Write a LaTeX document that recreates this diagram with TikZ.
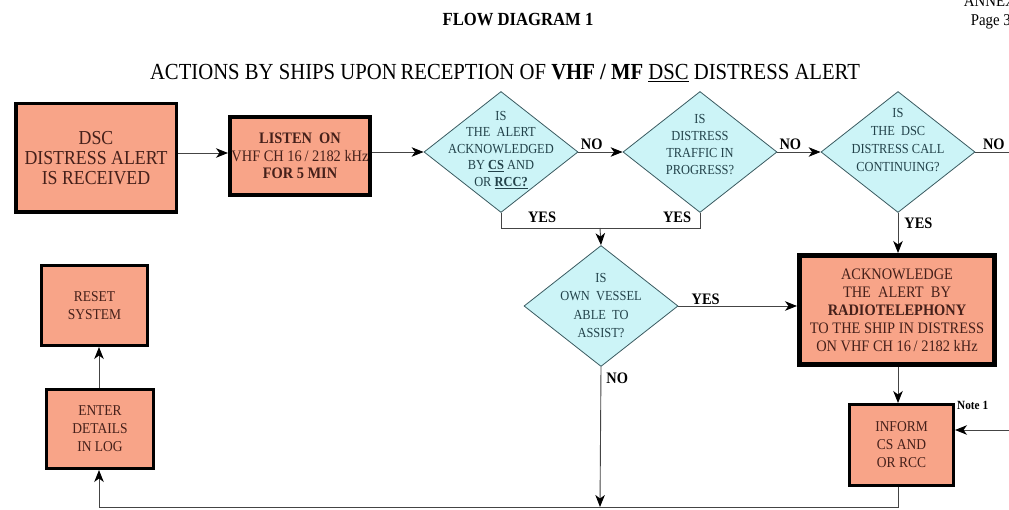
\documentclass[tikz,border=0pt]{standalone}
\usepackage{fontspec}
\setmainfont{Liberation Serif}
\newfontfamily\cond[FakeStretch=0.9]{Liberation Serif}
\usetikzlibrary{shapes.geometric,arrows.meta,calc}
\definecolor{boxfill}{HTML}{F8A488}
\definecolor{boxtext}{HTML}{45201A}
\definecolor{diafill}{HTML}{CCF4F7}
\definecolor{diaedge}{HTML}{3A5A60}
\definecolor{diatext}{HTML}{22424A}
\definecolor{linec}{HTML}{444444}
\newcommand{\fs}[2]{\fontsize{#1}{#2}\selectfont}
\begin{document}
\begin{tikzpicture}[x=1pt,y=-1pt,
  box/.style={draw=black, fill=boxfill, text=boxtext, align=center, inner sep=0pt},
  dia/.style={diamond, draw=diaedge, fill=diafill, line width=0.8pt, minimum width=154pt, minimum height=121pt, inner sep=0pt},
  dtext/.style={text=diatext, align=center, inner sep=0pt, font=\cond\fs{13.8}{16.5}},
  con/.style={draw=linec, line width=0.9pt},
  arr/.style={con, -{Stealth[length=12pt,width=9.5pt,inset=3.5pt,color=black]}},
  lab/.style={font=\cond\bfseries\fs{16}{18}, inner sep=0pt, text=black}
]
\useasboundingbox (0,0) rectangle (1009,510);

% header
\node[font=\cond\bfseries\fs{18.5}{20}] (hdr) at (518,20) {FLOW DIAGRAM 1};
\node[font=\cond\fs{16.5}{18}, anchor=east, inner sep=0pt] (page) at (1011,22) {Page 3};
\node[font=\cond\fs{16.5}{18}, anchor=base east, inner sep=0pt] (annex) at (1016,7) {ANNEX};
\node[font=\cond\fs{23}{25}] (title) at (505,73) {ACTIONS BY SHIPS UPON\,RECEPTION OF \textbf{VHF / MF} \underline{DSC} DISTRESS ALERT};

% boxes
\node[box, line width=3.5pt, minimum width=160.5pt, minimum height=108.5pt, font=\cond\fs{19.8}{20}] (dsc) at (96,158) {DSC\\DISTRESS ALERT\\IS RECEIVED};
\node[box, line width=4pt, minimum width=140pt, minimum height=78pt, font=\cond\fs{16}{17.5}] (listen) at (300,156) {\textbf{LISTEN\ \ ON}\\VHF CH 16\,/ 2182 kHz\\\textbf{FOR 5 MIN}};
\node[box, line width=5pt, minimum width=195pt, minimum height=109pt, font=\cond\fs{16}{18}] (ack) at (897,310) {ACKNOWLEDGE\\THE\ \ ALERT\ \ BY\\\textbf{RADIOTELEPHONY}\\TO THE SHIP IN DISTRESS\\ON VHF CH 16\,/ 2182 kHz};
\node[box, line width=3pt, minimum width=106pt, minimum height=80pt, font=\cond\fs{15}{18}] (reset) at (94.5,305.5) {RESET\\SYSTEM};
\node[box, line width=3pt, minimum width=107pt, minimum height=79pt, font=\cond\fs{15}{18}] (enter) at (100,429) {ENTER\\DETAILS\\IN LOG};
\node[box, line width=3pt, minimum width=104pt, minimum height=81pt, font=\cond\fs{15}{18}] (inform) at (901.5,445) {INFORM\\CS AND\\OR RCC};

% diamonds
\node[dia] (d1) at (501,152) {};
\node[dia] (d2) at (700,152) {};
\node[dia] (d3) at (898,152) {};
\node[dia] (d4) at (601,306) {};
\node[dtext] (t1) at (501,150) {IS\\THE\ \ ALERT\\ACKNOWLEDGED\\BY \underline{\textbf{CS}} AND\\OR \underline{\textbf{RCC?}}};
\node[dtext, font=\cond\fs{13.8}{17}] (t2) at (700,145) {IS\\DISTRESS\\TRAFFIC IN\\PROGRESS?};
\node[dtext, font=\cond\fs{13.8}{18}] (t3) at (898,140) {IS\\THE\ \ DSC\\DISTRESS CALL\\CONTINUING?};
\node[dtext, font=\cond\fs{13.8}{18.3}] (t4) at (601,305.5) {IS\\OWN\ \ VESSEL\\ABLE\ \ TO\\ASSIST?};

% helper coordinates
\coordinate (a1) at (0,153);
\coordinate (yl) at (600,228);
\coordinate (nend) at (1009,152);
\coordinate (bl) at (99,507);
\coordinate (br) at (898,507);
\coordinate (nobot) at (600,507);
\coordinate (note) at (1009,430);

% connectors
\draw[arr] (dsc.east |- a1) -- (listen.west |- a1);
\draw[arr] (listen.east |- d1.west) -- (d1.west);
\draw[arr] (d1.east) -- node[lab, above, yshift=2pt, pos=0.3] (no1) {NO} (d2.west);
\draw[arr] (d2.east) -- node[lab, above, yshift=2pt, pos=0.3] (no2) {NO} (d3.west);
\draw[con] (d3.east) -- node[lab, above, yshift=2pt, pos=0.55] (no3) {NO} (nend);
\draw[con] (d1.south) -- (d1.south |- yl) -- (d2.south |- yl) -- (d2.south);
\node[lab] (yes1) at (542,217) {YES};
\node[lab] (yes2) at (677,217) {YES};
\draw[arr] (yl) -- (d4.north);
\draw[arr] (d3.south) -- node[lab, right, xshift=6pt, pos=0.25] (yes3) {YES} (ack.north -| d3.south);
\draw[arr] (d4.east) -- node[lab, above, pos=0.23, yshift=1pt] (yes4) {YES} (ack.west |- d4.east);
\draw[arr] (d4.south) -- node[lab, right, pos=0.08, xshift=5pt] (no4) {NO} (nobot);
\draw[arr] (ack.south -| br) -- (inform.north -| br);
\draw[con] (inform.south -| br) -- (br) -- (bl);
\draw[arr] (bl) -- (enter.south -| bl);
\draw[arr] (enter.north -| bl) -- (reset.south -| bl);
\draw[arr] (note) -- (inform.east |- note);
\node[lab, font=\cond\bfseries\fs{12.5}{13}, anchor=west] (n1) at (957,405) {Note 1};
\end{tikzpicture}
\end{document}
